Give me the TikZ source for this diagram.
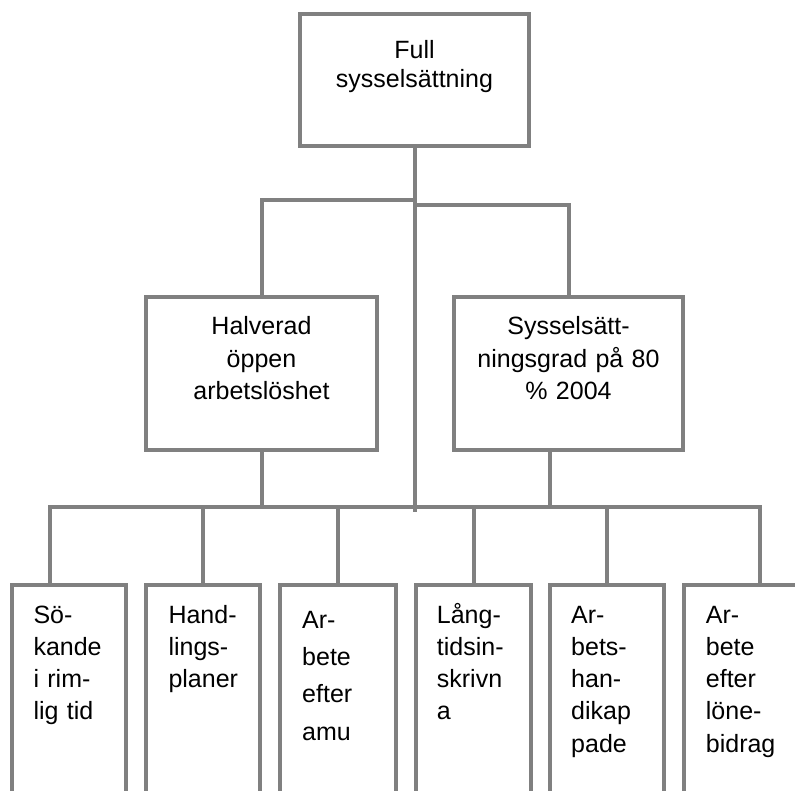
\documentclass[tikz,border=0pt]{standalone}
\usepackage{fontspec}
\setmainfont{Liberation Sans}
\definecolor{lc}{RGB}{128,128,128}
\begin{document}
\begin{tikzpicture}[x=1pt,y=-1pt,
  box/.style={draw=lc, line width=4pt, inner sep=0pt, rectangle},
  conn/.style={draw=lc, line width=4pt},
  ctext/.style={inner sep=0pt, anchor=base, text width=220pt, align=center,
     font=\fontsize{25}{32.2}\selectfont},
  ltext/.style={inner sep=0pt, anchor=base west, text width=100pt, align=left,
     font=\fontsize{25}{32.3}\selectfont}]
\useasboundingbox (0,0) rectangle (795,791);
\clip (0,0) rectangle (795,791);
\fill[white] (0,0) rectangle (795,791);
% boxes
\node[box, minimum width=228.4pt, minimum height=132.6pt] (top) at (414.5,80) {};
\node[box, minimum width=231pt, minimum height=152.7pt] (mid1) at (261.5,373.3) {};
\node[box, minimum width=229.6pt, minimum height=152.7pt] (mid2) at (568.5,373.3) {};
\node[box, minimum width=114.3pt, minimum height=240pt] (b1) at (69.2,705.3) {};
\node[box, minimum width=114.3pt, minimum height=240pt] (b2) at (203.2,705.3) {};
\node[box, minimum width=116pt, minimum height=240pt] (b3) at (338.3,705.3) {};
\node[box, minimum width=115pt, minimum height=240pt] (b4) at (473.5,705.3) {};
\node[box, minimum width=114pt, minimum height=240pt] (b5) at (606.7,705.3) {};
\node[box, minimum width=115pt, minimum height=240pt] (b6) at (741.8,705.3) {};
% texts
\node[ctext, font=\fontsize{25}{29}\selectfont] (t0) at (414.5,59) {Full\\sysselsättning};
\node[ctext] (t1) at (261.5,335) {Halverad\\öppen\\arbetslöshet};
\node[ctext] (t2) at (568.5,335) {Sysselsätt-\\ningsgrad på 80\\\% 2004};
\node[ltext] (t3) at (33.3,623) {Sö-\\kande\\i rim-\\lig tid};
\node[ltext] (t4) at (168.3,623) {Hand-\\lings-\\planer};
\node[ltext, font=\fontsize{25}{37.3}\selectfont] (t5) at (302,628.3) {Ar-\\bete\\efter\\amu};
\node[ltext] (t6) at (436.7,623) {Lång-\\tidsin-\\skrivn\\a};
\node[ltext] (t7) at (571,623) {Ar-\\bets-\\han-\\dikap\\pade};
\node[ltext] (t8) at (705.7,623) {Ar-\\bete\\efter\\löne-\\bidrag};
% junctions
\coordinate (jL) at (414.5,200);
\coordinate (jR) at (414.5,205);
\coordinate (kR) at (568.5,205);
\coordinate (cEnd) at (414.5,512);
\coordinate (barL) at (50.3,506.7);
\coordinate (barM) at (549.5,506.7);
\coordinate (barR) at (760.3,506.7);
% connectors
\draw[conn] (top.south) -- (cEnd);
\draw[conn] (top.south |- jL) -| (mid1.north);
\draw[conn] (jR) -- (kR) -- (mid2.north);
\draw[conn] (mid1.south) -- (mid1.south |- barL);
\draw[conn] (mid2.south -| barM) -- (barM);
\draw[conn] (barL |- b1.north) -- (barL) -- (barR) -- (barR |- b6.north);
\draw[conn] (b2.north |- barL) -- (b2.north);
\draw[conn] (b3.north |- barL) -- (b3.north);
\draw[conn] (b4.north |- barL) -- (b4.north);
\draw[conn] (b5.north |- barL) -- (b5.north);
\end{tikzpicture}
\end{document}
